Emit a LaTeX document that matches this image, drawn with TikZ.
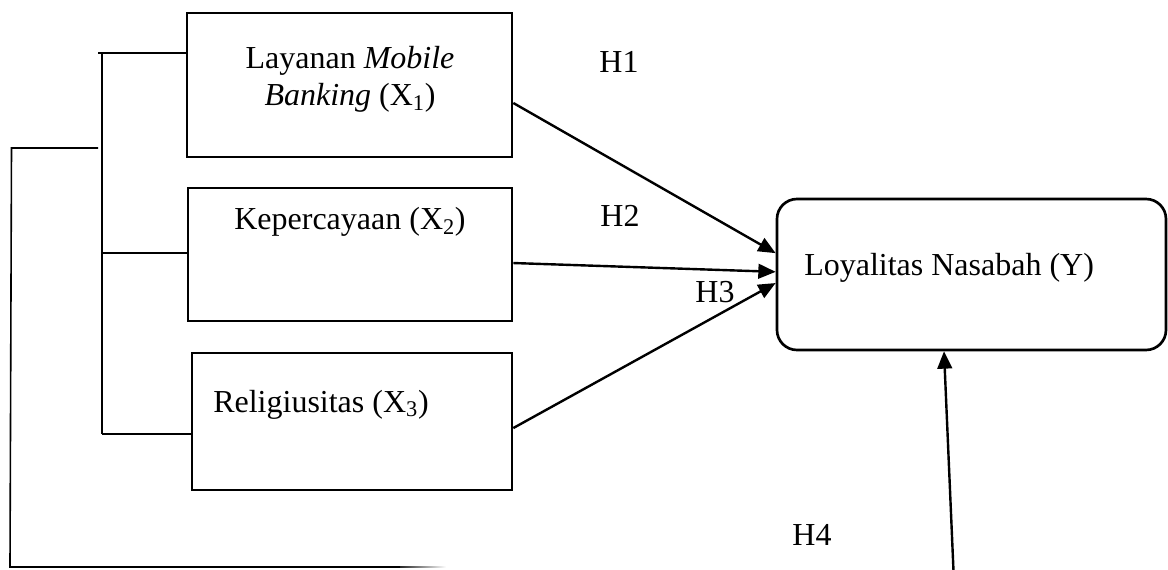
\documentclass[tikz,border=0pt]{standalone}
\usepackage{fontspec}
\setmainfont{Liberation Serif}
\usetikzlibrary{arrows.meta}
\begin{document}
\begin{tikzpicture}[x=0.75pt,y=-0.75pt,
  boxnode/.style={draw,line width=2pt,inner sep=0pt,fill=white},
  txt/.style={inner sep=0pt,font=\fontsize{24}{27.75}\selectfont,align=center},
  brk/.style={line width=1.2pt},
  arr/.style={line width=1.8pt,-{Triangle[length=13pt,width=11pt]}}]
\useasboundingbox (0,0) rectangle (1168,570);
% boxes
\node[boxnode,minimum width=243.75pt,minimum height=108pt] (b1) at (349.5,85) {};
\node[boxnode,minimum width=243pt,minimum height=99.75pt] (b2) at (350,254.5) {};
\node[boxnode,minimum width=240pt,minimum height=102.75pt] (b3) at (352,421.5) {};
\node[boxnode,rounded corners=15pt,minimum width=291.75pt,minimum height=113.25pt] (Y) at (971.5,274.5) {};
% texts
\node[txt] (t1) at (350,79) {Layanan \textit{Mobile}\\\textit{Banking} (X\textsubscript{1})};
\node[txt,anchor=base] (t2) at (350,230) {Kepercayaan (X\textsubscript{2})};
\node[txt,anchor=base west] (t3) at (213,412) {Religiusitas (X\textsubscript{3})};
\node[txt,anchor=base west] (ty) at (804,276) {Loyalitas Nasabah (Y)};
\node[txt,anchor=base] (h1) at (619,73) {H1};
\node[txt,anchor=base] (h2) at (620,227) {H2};
\node[txt,anchor=base] (h3) at (715,303) {H3};
\node[txt,anchor=base] (h4) at (812,545) {H4};
% bracket
\coordinate (bt) at (98,53);
\coordinate (bv) at (102,53);
\coordinate (bm) at (102,253);
\coordinate (bb) at (102,434);
\draw[brk] (bt) -- (bt -| b1.west);
\draw[brk] (bv) -- (bb);
\draw[brk] (bm) -- (bm -| b2.west);
\draw[brk] (bb) -- (bb -| b3.west);
% outer line
\coordinate (o1) at (98,148);
\coordinate (o2) at (11.5,148);
\coordinate (o3) at (10,567);
\coordinate (o4) at (400,567);
\draw[brk] (o1) -- (o2) -- (o3) -- (o4);
\shade[left color=black!85,right color=white] (400,566.2) rectangle (446,567.8);
% arrows
\draw[arr] ([yshift=-13.5pt]b1.east) -- ([yshift=16pt]Y.west);
\draw[arr] ([yshift=-6.4pt]b2.east) -- ([yshift=2pt]Y.west);
\draw[arr] ([yshift=-4.9pt]b3.east) -- ([yshift=-6.4pt]Y.west);
\coordinate (h4s) at (953.5,571);
\coordinate (h4x) at (944,0);
\draw[arr] (h4s) -- (Y.south -| h4x);
\end{tikzpicture}
\end{document}
